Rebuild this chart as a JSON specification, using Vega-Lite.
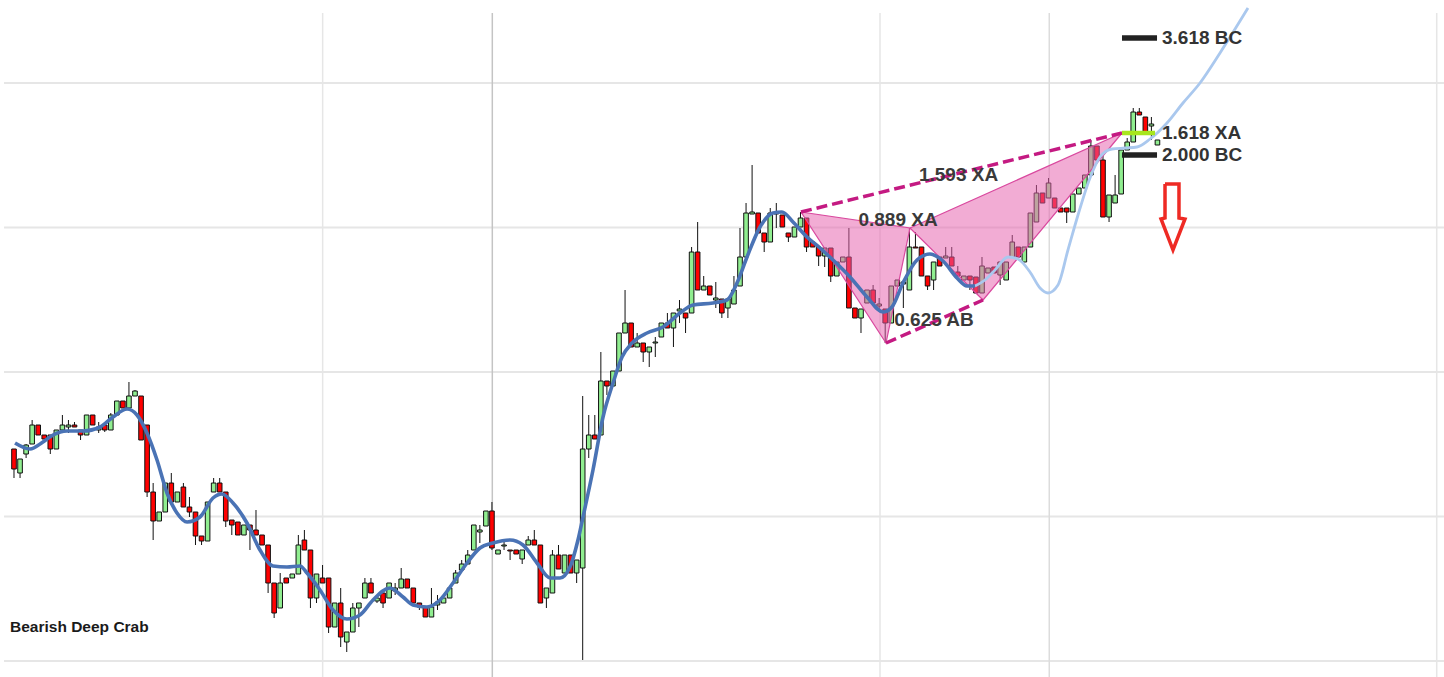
{
"$schema": "https://vega.github.io/schema/vega-lite/v6.json",
"width": 1444, "height": 677,
"autosize": {"type": "none"},
"padding": 0,
"background": "white",
"config": {"view": {"stroke": null}, "scale": {"continuousPadding": 0}},
"datasets": {
"hgrid": [{"t": -1.65, "t2": 236.36, "v": 0}, {"t": -1.65, "t2": 236.36, "v": 144.5}, {"t": -1.65, "t2": 236.36, "v": 289}, {"t": -1.65, "t2": 236.36, "v": 433.5}, {"t": -1.65, "t2": 236.36, "v": 578}],
"vgrid": [{"t": 51.02, "v": 648, "v2": -16, "col": "#e6e6e6"}, {"t": 79.06, "v": 648, "v2": -16, "col": "#c4c4c4"}, {"t": 143.14, "v": 648, "v2": -16, "col": "#e6e6e6"}, {"t": 171.12, "v": 648, "v2": -16, "col": "#dcdcdc"}, {"t": 235.16, "v": 648, "v2": -16, "col": "#e6e6e6"}],
"candles": [
{"t":0,"o":212,"h":212,"l":183,"c":192},{"t":1,"o":188,"h":202,"l":183,"c":202},{"t":2,"o":207,"h":217,"l":203,"c":216},{"t":3,"o":217,"h":241,"l":217,"c":236},{"t":4,"o":236,"h":236,"l":226,"c":226},{"t":5,"o":226,"h":226,"l":222,"c":222},{"t":6,"o":226,"h":226,"l":207,"c":212},{"t":7,"o":212,"h":231,"l":212,"c":231},{"t":8,"o":231,"h":246,"l":231,"c":236},{"t":9,"o":234,"h":241,"l":228,"c":236},
{"t":10,"o":236,"h":239,"l":234,"c":234},{"t":11,"o":231,"h":231,"l":221,"c":226},{"t":12,"o":226,"h":246,"l":226,"c":246},{"t":13,"o":246,"h":246,"l":236,"c":236},{"t":14,"o":231,"h":239,"l":228,"c":234},{"t":15,"o":236,"h":236,"l":229,"c":231},{"t":16,"o":231,"h":248,"l":231,"c":246},{"t":17,"o":246,"h":260,"l":246,"c":260},{"t":18,"o":260,"h":260,"l":253,"c":253},{"t":19,"o":253,"h":279,"l":253,"c":265},
{"t":20,"o":265,"h":271,"l":265,"c":270},{"t":21,"o":265,"h":265,"l":221,"c":221},{"t":22,"o":236,"h":236,"l":164,"c":169},{"t":23,"o":169,"h":178,"l":121,"c":140},{"t":24,"o":140,"h":149,"l":140,"c":149},{"t":25,"o":149,"h":178,"l":149,"c":178},{"t":26,"o":178,"h":188,"l":159,"c":159},{"t":27,"o":159,"h":169,"l":159,"c":169},{"t":28,"o":174,"h":178,"l":154,"c":154},{"t":29,"o":154,"h":164,"l":144,"c":149},
{"t":30,"o":149,"h":149,"l":116,"c":125},{"t":31,"o":125,"h":125,"l":116,"c":120},{"t":32,"o":120,"h":159,"l":120,"c":159},{"t":33,"o":169,"h":183,"l":169,"c":178},{"t":34,"o":178,"h":183,"l":169,"c":169},{"t":35,"o":169,"h":169,"l":134,"c":140},{"t":36,"o":141,"h":141,"l":126,"c":136},{"t":37,"o":139,"h":139,"l":126,"c":126},{"t":38,"o":126,"h":136,"l":126,"c":136},{"t":39,"o":136,"h":136,"l":111,"c":131},
{"t":40,"o":131,"h":151,"l":126,"c":126},{"t":41,"o":126,"h":126,"l":116,"c":116},{"t":42,"o":116,"h":116,"l":68,"c":78},{"t":43,"o":78,"h":78,"l":43,"c":48},{"t":44,"o":53,"h":88,"l":53,"c":78},{"t":45,"o":83,"h":83,"l":78,"c":78},{"t":46,"o":83,"h":87,"l":83,"c":87},{"t":47,"o":87,"h":126,"l":87,"c":116},{"t":48,"o":121,"h":131,"l":111,"c":111},{"t":49,"o":111,"h":111,"l":53,"c":63},
{"t":50,"o":63,"h":87,"l":58,"c":87},{"t":51,"o":83,"h":96,"l":78,"c":78},{"t":52,"o":83,"h":83,"l":28,"c":34},{"t":53,"o":34,"h":58,"l":34,"c":58},{"t":54,"o":58,"h":73,"l":14,"c":24},{"t":55,"o":19,"h":29,"l":9,"c":29},{"t":56,"o":29,"h":58,"l":29,"c":53},{"t":57,"o":53,"h":58,"l":34,"c":58},{"t":58,"o":63,"h":83,"l":63,"c":78},{"t":59,"o":78,"h":83,"l":68,"c":68},
{"t":60,"o":60,"h":65,"l":58,"c":63},{"t":61,"o":68,"h":68,"l":53,"c":58},{"t":62,"o":63,"h":78,"l":63,"c":78},{"t":63,"o":70,"h":78,"l":66,"c":73},{"t":64,"o":73,"h":93,"l":73,"c":82},{"t":65,"o":82,"h":82,"l":73,"c":73},{"t":66,"o":73,"h":73,"l":58,"c":58},{"t":67,"o":58,"h":58,"l":51,"c":54},{"t":68,"o":54,"h":54,"l":44,"c":44},{"t":69,"o":44,"h":73,"l":44,"c":54},
{"t":70,"o":56,"h":66,"l":51,"c":59},{"t":71,"o":58,"h":63,"l":58,"c":63},{"t":72,"o":63,"h":73,"l":63,"c":73},{"t":73,"o":78,"h":91,"l":78,"c":88},{"t":74,"o":91,"h":101,"l":91,"c":97},{"t":75,"o":97,"h":111,"l":97,"c":106},{"t":76,"o":111,"h":136,"l":111,"c":136},{"t":77,"o":129,"h":136,"l":118,"c":131},{"t":78,"o":135,"h":150,"l":135,"c":150},{"t":79,"o":150,"h":159,"l":111,"c":113},
{"t":80,"o":107,"h":111,"l":107,"c":111},{"t":81,"o":115,"h":121,"l":111,"c":116},{"t":82,"o":111,"h":111,"l":101,"c":110},{"t":83,"o":111,"h":111,"l":107,"c":107},{"t":84,"o":102,"h":111,"l":97,"c":111},{"t":85,"o":116,"h":125,"l":116,"c":121},{"t":86,"o":121,"h":131,"l":116,"c":116},{"t":87,"o":116,"h":116,"l":58,"c":58},{"t":88,"o":63,"h":73,"l":53,"c":73},{"t":89,"o":68,"h":111,"l":68,"c":106},
{"t":90,"o":106,"h":116,"l":92,"c":92},{"t":91,"o":88,"h":106,"l":88,"c":106},{"t":92,"o":106,"h":106,"l":88,"c":88},{"t":93,"o":88,"h":101,"l":78,"c":101},{"t":94,"o":93,"h":265,"l":1,"c":212},{"t":95,"o":212,"h":246,"l":203,"c":226},{"t":96,"o":226,"h":246,"l":222,"c":222},{"t":97,"o":226,"h":309,"l":226,"c":280},{"t":98,"o":280,"h":280,"l":266,"c":275},{"t":99,"o":275,"h":290,"l":275,"c":290},
{"t":100,"o":290,"h":328,"l":290,"c":328},{"t":101,"o":328,"h":371,"l":328,"c":338},{"t":102,"o":338,"h":338,"l":314,"c":314},{"t":103,"o":314,"h":328,"l":314,"c":318},{"t":104,"o":318,"h":318,"l":299,"c":309},{"t":105,"o":309,"h":314,"l":294,"c":314},{"t":106,"o":318,"h":324,"l":304,"c":319},{"t":107,"o":324,"h":338,"l":324,"c":338},{"t":108,"o":338,"h":348,"l":333,"c":333},{"t":109,"o":333,"h":348,"l":314,"c":348},
{"t":110,"o":350,"h":361,"l":338,"c":352},{"t":111,"o":348,"h":348,"l":328,"c":343},{"t":112,"o":348,"h":414,"l":348,"c":409},{"t":113,"o":409,"h":439,"l":371,"c":371},{"t":114,"o":371,"h":385,"l":371,"c":375},{"t":115,"o":375,"h":375,"l":366,"c":366},{"t":116,"o":361,"h":379,"l":353,"c":363},{"t":117,"o":362,"h":362,"l":343,"c":348},{"t":118,"o":353,"h":362,"l":343,"c":362},{"t":119,"o":357,"h":385,"l":357,"c":371},
{"t":120,"o":375,"h":433,"l":375,"c":404},{"t":121,"o":404,"h":458,"l":404,"c":448},{"t":122,"o":447,"h":496,"l":447,"c":449},{"t":123,"o":448,"h":448,"l":428,"c":428},{"t":124,"o":428,"h":428,"l":409,"c":419},{"t":125,"o":419,"h":453,"l":419,"c":448},{"t":126,"o":447,"h":458,"l":433,"c":449},{"t":127,"o":446,"h":446,"l":434,"c":434},{"t":128,"o":428,"h":428,"l":419,"c":424},{"t":129,"o":424,"h":434,"l":424,"c":434},
{"t":130,"o":434,"h":449,"l":434,"c":443},{"t":131,"o":443,"h":443,"l":409,"c":414},{"t":132,"o":419,"h":419,"l":414,"c":414},{"t":133,"o":414,"h":414,"l":395,"c":405},{"t":134,"o":405,"h":413,"l":394,"c":413},{"t":135,"o":413,"h":413,"l":379,"c":385},{"t":136,"o":385,"h":399,"l":385,"c":399},{"t":137,"o":399,"h":404,"l":399,"c":404},{"t":138,"o":404,"h":433,"l":353,"c":353},{"t":139,"o":353,"h":353,"l":343,"c":343},
{"t":140,"o":343,"h":352,"l":328,"c":352},{"t":141,"o":358,"h":371,"l":358,"c":371},{"t":142,"o":371,"h":376,"l":358,"c":358},{"t":143,"o":355,"h":363,"l":349,"c":357},{"t":144,"o":352,"h":352,"l":318,"c":338},{"t":145,"o":338,"h":375,"l":338,"c":375},{"t":146,"o":375,"h":381,"l":375,"c":381},{"t":147,"o":377,"h":379,"l":353,"c":379},{"t":148,"o":371,"h":433,"l":371,"c":414},{"t":149,"o":414,"h":429,"l":413,"c":413},
{"t":150,"o":414,"h":414,"l":385,"c":385},{"t":151,"o":385,"h":385,"l":371,"c":375},{"t":152,"o":381,"h":399,"l":371,"c":399},{"t":153,"o":404,"h":404,"l":395,"c":395},{"t":154,"o":403,"h":414,"l":403,"c":405},{"t":155,"o":404,"h":414,"l":395,"c":395},{"t":156,"o":389,"h":395,"l":385,"c":385},{"t":157,"o":381,"h":385,"l":381,"c":385},{"t":158,"o":385,"h":385,"l":371,"c":381},{"t":159,"o":384,"h":384,"l":368,"c":368},
{"t":160,"o":368,"h":404,"l":368,"c":395},{"t":161,"o":388,"h":393,"l":388,"c":393},{"t":162,"o":394,"h":394,"l":388,"c":388},{"t":163,"o":386,"h":399,"l":376,"c":399},{"t":164,"o":381,"h":399,"l":381,"c":399},{"t":165,"o":404,"h":426,"l":404,"c":419},{"t":166,"o":414,"h":414,"l":404,"c":404},{"t":167,"o":399,"h":414,"l":399,"c":414},{"t":168,"o":414,"h":448,"l":414,"c":448},{"t":169,"o":439,"h":476,"l":439,"c":468},
{"t":170,"o":468,"h":468,"l":458,"c":458},{"t":171,"o":463,"h":483,"l":463,"c":478},{"t":172,"o":463,"h":463,"l":453,"c":453},{"t":173,"o":453,"h":453,"l":449,"c":449},{"t":174,"o":453,"h":453,"l":438,"c":449},{"t":175,"o":449,"h":467,"l":449,"c":467},{"t":176,"o":467,"h":473,"l":467,"c":473},{"t":177,"o":473,"h":486,"l":473,"c":486},{"t":178,"o":486,"h":521,"l":486,"c":515},{"t":179,"o":515,"h":515,"l":501,"c":501},
{"t":180,"o":501,"h":506,"l":444,"c":444},{"t":181,"o":444,"h":466,"l":439,"c":466},{"t":182,"o":458,"h":486,"l":458,"c":466},{"t":183,"o":467,"h":511,"l":467,"c":511},{"t":184,"o":511,"h":523,"l":511,"c":519},{"t":185,"o":519,"h":553,"l":519,"c":549},{"t":186,"o":549,"h":553,"l":546,"c":546},{"t":187,"o":544,"h":544,"l":529,"c":529},{"t":188,"o":535,"h":544,"l":521,"c":537},{"t":189,"o":516,"h":521,"l":516,"c":521}
],
"tri": [{"g": "XAB", "t": 130.08, "v": 449, "v2": 449}, {"g": "XAB", "t": 144.13, "v": 436.5, "v2": 318}, {"g": "XAB", "t": 148.1, "v": 433, "v2": 433}, {"g": "BCD", "t": 148.1, "v": 433, "v2": 433}, {"g": "BCD", "t": 160.17, "v": 465.7, "v2": 361}, {"g": "BCD", "t": 183.14, "v": 528, "v2": 528}],
"triedge": [{"g": "XAB", "k": 0, "t": 130.08, "v": 449}, {"g": "XAB", "k": 1, "t": 144.13, "v": 318}, {"g": "XAB", "k": 2, "t": 148.1, "v": 433}, {"g": "XAB", "k": 3, "t": 130.08, "v": 449}, {"g": "BCD", "k": 0, "t": 148.1, "v": 433}, {"g": "BCD", "k": 1, "t": 160.17, "v": 361}, {"g": "BCD", "k": 2, "t": 183.14, "v": 528}, {"g": "BCD", "k": 3, "t": 148.1, "v": 433}],
"dash": [{"g": "XD", "t": 130.08, "v": 449}, {"g": "XD", "t": 183.14, "v": 528}, {"g": "AC", "t": 144.13, "v": 318}, {"g": "AC", "t": 160.17, "v": 361}],
"ma": [{"t":0.17,"v":218},{"t":2.64,"v":212},{"t":4.79,"v":219},{"t":6.45,"v":226},{"t":8.76,"v":230},{"t":11.4,"v":230},{"t":14.21,"v":234},{"t":16.36,"v":244},{"t":18.68,"v":252},{"t":20.33,"v":246},{"t":21.98,"v":228},{"t":23.64,"v":201},{"t":25.29,"v":168},{"t":26.94,"v":148},{"t":28.6,"v":139},{"t":30.74,"v":144},{"t":32.89,"v":163},{"t":34.38,"v":167},{"t":36.2,"v":158},{"t":38.51,"v":138},{"t":40.66,"v":111},{"t":42.81,"v":95},{"t":45.12,"v":94},{"t":47.27,"v":95},{"t":48.43,"v":88},{"t":50.58,"v":71},{"t":52.73,"v":51},{"t":55.04,"v":42},{"t":57.19,"v":46},{"t":59.34,"v":61},{"t":62.15,"v":73},{"t":64.3,"v":64},{"t":65.95,"v":56},{"t":68.26,"v":54},{"t":70.41,"v":61},{"t":72.56,"v":78},{"t":74.88,"v":98},{"t":77.02,"v":113},{"t":79.17,"v":118},{"t":81.98,"v":121},{"t":84.13,"v":116},{"t":86.45,"v":98},{"t":88.6,"v":83},{"t":90.25,"v":83},{"t":91.9,"v":94},{"t":93.22,"v":121},{"t":94.05,"v":144},{"t":95.7,"v":191},{"t":97.36,"v":244},{"t":99.01,"v":278},{"t":100.5,"v":304},{"t":102.15,"v":318},{"t":104.63,"v":328},{"t":107.27,"v":334},{"t":110.08,"v":348},{"t":112.23,"v":356},{"t":115.54,"v":358},{"t":117.85,"v":361},{"t":119.5,"v":378},{"t":121.16,"v":404},{"t":123.31,"v":434},{"t":125.45,"v":448},{"t":126.94,"v":449},{"t":128.76,"v":439},{"t":131.07,"v":424},{"t":133.22,"v":413},{"t":135.37,"v":401},{"t":138.18,"v":384},{"t":140.99,"v":364},{"t":143.64,"v":349},{"t":145.12,"v":354},{"t":146.94,"v":378},{"t":149.26,"v":401},{"t":151.4,"v":407},{"t":153.55,"v":400},{"t":155.87,"v":383},{"t":157.52,"v":375},{"t":158.84,"v":375}],
"proj": [{"t":158.84,"v":375},{"t":160.5,"v":381},{"t":162.15,"v":391},{"t":164.3,"v":404},{"t":165.95,"v":402},{"t":167.93,"v":389},{"t":169.59,"v":373},{"t":170.91,"v":368},{"t":172.56,"v":376},{"t":174.21,"v":411},{"t":175.87,"v":446},{"t":177.85,"v":483},{"t":179.5,"v":504},{"t":181.49,"v":512},{"t":183.64,"v":513},{"t":185.62,"v":514},{"t":187.77,"v":522},{"t":190.58,"v":538},{"t":193.22,"v":558},{"t":196.03,"v":578},{"t":199.34,"v":608},{"t":203.97,"v":653}],
"levels": [{"t": 183.14, "t2": 188.93, "v": 623, "col": "#222222", "sw": 5.5}, {"t": 183.14, "t2": 188.6, "v": 528, "col": "#a8e61d", "sw": 4.5}, {"t": 183.14, "t2": 188.93, "v": 506, "col": "#222222", "sw": 5.5}],
"clabels": [{"t": 156.12, "v": 486.5, "label": "1.593 XA"}, {"t": 146.12, "v": 441, "label": "0.889 XA"}, {"t": 152.07, "v": 341, "label": "0.625 AB"}],
"rlabels": [{"t": 189.75, "v": 623, "label": "3.618 BC"}, {"t": 189.75, "v": 528, "label": "1.618 XA"}, {"t": 189.75, "v": 506, "label": "2.000 BC"}],
"title": [{"t": -0.66, "v": 34, "label": "Bearish Deep Crab"}],
"arrow": [{"k":0,"t":190.25,"v":477},{"k":1,"t":192.56,"v":477},{"k":2,"t":192.56,"v":443},{"k":3,"t":193.55,"v":442},{"k":4,"t":191.57,"v":411},{"k":5,"t":189.59,"v":442},{"k":6,"t":190.25,"v":443},{"k":7,"t":190.25,"v":477}]
},
"layer": [
{"data": {"name": "hgrid"}, "mark": {"type": "rule", "color": "#e6e6e6", "strokeWidth": 2},
 "encoding": {"x": {"field": "t", "type": "quantitative", "scale": {"domain": [-2.314, 236.364], "nice": false, "zero": false, "padding": 0}, "axis": null}, "x2": {"field": "t2"}, "y": {"field": "v", "type": "quantitative", "scale": {"domain": [-16, 661], "nice": false, "zero": false, "padding": 0}, "axis": null}}},
{"data": {"name": "vgrid"}, "mark": {"type": "rule", "strokeWidth": 1.5},
 "encoding": {"x": {"field": "t", "type": "quantitative", "scale": {"domain": [-2.314, 236.364], "nice": false, "zero": false, "padding": 0}, "axis": null}, "y": {"field": "v", "type": "quantitative", "scale": {"domain": [-16, 661], "nice": false, "zero": false, "padding": 0}, "axis": null}, "y2": {"field": "v2"}, "color": {"field": "col", "type": "nominal", "scale": null}}},
{"data": {"name": "candles"}, "mark": {"type": "rule", "color": "#111111", "strokeWidth": 1},
 "encoding": {"x": {"field": "t", "type": "quantitative", "scale": {"domain": [-2.314, 236.364], "nice": false, "zero": false, "padding": 0}, "axis": null}, "y": {"field": "l", "type": "quantitative", "scale": {"domain": [-16, 661], "nice": false, "zero": false, "padding": 0}, "axis": null}, "y2": {"field": "h"}}},
{"data": {"name": "candles"}, "mark": {"type": "bar", "width": 4.6, "stroke": "#111111", "strokeWidth": 1},
 "encoding": {"x": {"field": "t", "type": "quantitative", "scale": {"domain": [-2.314, 236.364], "nice": false, "zero": false, "padding": 0}, "axis": null}, "y": {"field": "o", "type": "quantitative", "scale": {"domain": [-16, 661], "nice": false, "zero": false, "padding": 0}, "axis": null}, "y2": {"field": "c"}, "fill": {"condition": {"test": "datum.c >= datum.o", "value": "#90ee90"}, "value": "#ff0000"}}},
{"data": {"name": "tri"}, "mark": {"type": "area", "color": "#e75fac", "opacity": 0.52, "interpolate": "linear"},
 "encoding": {"x": {"field": "t", "type": "quantitative", "scale": {"domain": [-2.314, 236.364], "nice": false, "zero": false, "padding": 0}, "axis": null}, "y": {"field": "v", "type": "quantitative", "scale": {"domain": [-16, 661], "nice": false, "zero": false, "padding": 0}, "axis": null}, "y2": {"field": "v2"}, "detail": {"field": "g"}}},
{"data": {"name": "triedge"}, "mark": {"type": "line", "color": "#d9489e", "strokeWidth": 1.2},
 "encoding": {"x": {"field": "t", "type": "quantitative", "scale": {"domain": [-2.314, 236.364], "nice": false, "zero": false, "padding": 0}, "axis": null}, "y": {"field": "v", "type": "quantitative", "scale": {"domain": [-16, 661], "nice": false, "zero": false, "padding": 0}, "axis": null}, "detail": {"field": "g"}, "order": {"field": "k"}}},
{"data": {"name": "dash"}, "mark": {"type": "line", "color": "#c41a82", "strokeWidth": 3.5, "strokeDash": [11, 5]},
 "encoding": {"x": {"field": "t", "type": "quantitative", "scale": {"domain": [-2.314, 236.364], "nice": false, "zero": false, "padding": 0}, "axis": null}, "y": {"field": "v", "type": "quantitative", "scale": {"domain": [-16, 661], "nice": false, "zero": false, "padding": 0}, "axis": null}, "detail": {"field": "g"}}},
{"data": {"name": "proj"}, "mark": {"type": "line", "color": "#aac8ee", "strokeWidth": 2.8, "interpolate": "monotone"},
 "encoding": {"x": {"field": "t", "type": "quantitative", "scale": {"domain": [-2.314, 236.364], "nice": false, "zero": false, "padding": 0}, "axis": null}, "y": {"field": "v", "type": "quantitative", "scale": {"domain": [-16, 661], "nice": false, "zero": false, "padding": 0}, "axis": null}}},
{"data": {"name": "ma"}, "mark": {"type": "line", "color": "#4a73b5", "strokeWidth": 3.6, "interpolate": "monotone"},
 "encoding": {"x": {"field": "t", "type": "quantitative", "scale": {"domain": [-2.314, 236.364], "nice": false, "zero": false, "padding": 0}, "axis": null}, "y": {"field": "v", "type": "quantitative", "scale": {"domain": [-16, 661], "nice": false, "zero": false, "padding": 0}, "axis": null}}},
{"data": {"name": "levels"}, "mark": {"type": "rule"},
 "encoding": {"x": {"field": "t", "type": "quantitative", "scale": {"domain": [-2.314, 236.364], "nice": false, "zero": false, "padding": 0}, "axis": null}, "x2": {"field": "t2"}, "y": {"field": "v", "type": "quantitative", "scale": {"domain": [-16, 661], "nice": false, "zero": false, "padding": 0}, "axis": null}, "color": {"field": "col", "type": "nominal", "scale": null}, "size": {"field": "sw", "type": "quantitative", "scale": null}}},
{"data": {"name": "clabels"}, "mark": {"type": "text", "font": "Liberation Sans", "fontWeight": "bold", "fontSize": 19, "align": "center", "baseline": "middle", "color": "#3a3a3a"},
 "encoding": {"x": {"field": "t", "type": "quantitative", "scale": {"domain": [-2.314, 236.364], "nice": false, "zero": false, "padding": 0}, "axis": null}, "y": {"field": "v", "type": "quantitative", "scale": {"domain": [-16, 661], "nice": false, "zero": false, "padding": 0}, "axis": null}, "text": {"field": "label"}}},
{"data": {"name": "rlabels"}, "mark": {"type": "text", "font": "Liberation Sans", "fontWeight": "bold", "fontSize": 19, "align": "left", "baseline": "middle", "color": "#333333"},
 "encoding": {"x": {"field": "t", "type": "quantitative", "scale": {"domain": [-2.314, 236.364], "nice": false, "zero": false, "padding": 0}, "axis": null}, "y": {"field": "v", "type": "quantitative", "scale": {"domain": [-16, 661], "nice": false, "zero": false, "padding": 0}, "axis": null}, "text": {"field": "label"}}},
{"data": {"name": "title"}, "mark": {"type": "text", "font": "Liberation Sans", "fontWeight": "bold", "fontSize": 15.5, "align": "left", "baseline": "middle", "color": "#1a1a1a"},
 "encoding": {"x": {"field": "t", "type": "quantitative", "scale": {"domain": [-2.314, 236.364], "nice": false, "zero": false, "padding": 0}, "axis": null}, "y": {"field": "v", "type": "quantitative", "scale": {"domain": [-16, 661], "nice": false, "zero": false, "padding": 0}, "axis": null}, "text": {"field": "label"}}},
{"data": {"name": "arrow"}, "mark": {"type": "line", "color": "#ee2a24", "strokeWidth": 3.5, "strokeJoin": "miter"},
 "encoding": {"x": {"field": "t", "type": "quantitative", "scale": {"domain": [-2.314, 236.364], "nice": false, "zero": false, "padding": 0}, "axis": null}, "y": {"field": "v", "type": "quantitative", "scale": {"domain": [-16, 661], "nice": false, "zero": false, "padding": 0}, "axis": null}, "order": {"field": "k"}}}
]
}
